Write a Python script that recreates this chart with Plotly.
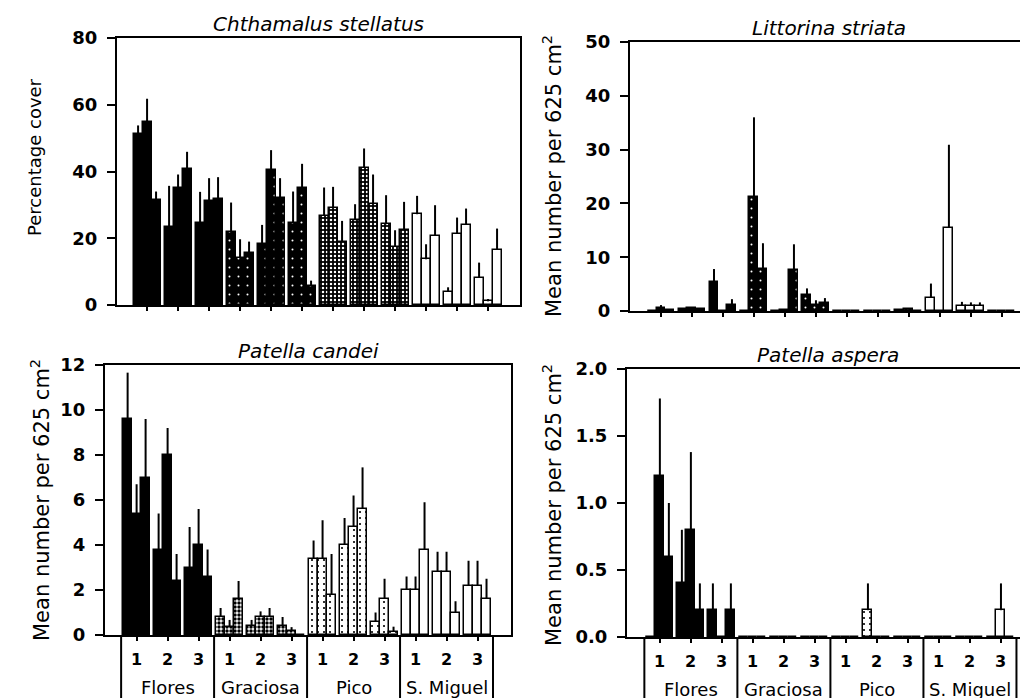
import plotly.graph_objects as go

# ---------------- data ----------------
ISLANDS = ["Flores", "Graciosa", "Pico", "S. Miguel"]
SHORES = ["1", "2", "3"]
SITES_PER_SHORE = 3

# order: island -> shore -> site (4 islands x 3 shores x 3 sites = 36 values)
chth_mean = [51.1, 54.9, 31.4, 23.5, 35.0, 40.8, 24.5, 31.2, 31.7,
             22.0, 14.0, 15.7, 18.4, 40.5, 32.0, 24.5, 35.2, 5.6,
             26.7, 29.2, 19.0, 25.4, 41.1, 30.3, 24.2, 17.4, 22.4,
             27.2, 13.7, 20.7, 4.0, 21.4, 24.0, 8.1, 1.1, 16.5]
chth_err = [2.7, 6.9, 2.6, 12.2, 4.1, 5.1, 9.4, 6.8, 6.6,
            8.7, 5.7, 3.3, 5.6, 5.9, 6.0, 9.5, 7.1, 1.7,
            8.5, 6.2, 6.2, 4.8, 5.8, 8.8, 8.7, 5.0, 8.5,
            5.5, 4.5, 9.2, 1.3, 4.8, 4.9, 4.6, 0.7, 6.4]

litt_mean = [0.0, 0.6, 0.1, 0.3, 0.5, 0.3, 5.3, 0.0, 1.2,
             0.0, 21.2, 7.8, 0.0, 0.1, 7.6, 3.0, 1.2, 1.5,
             0.0, 0.0, 0.0, 0.0, 0.0, 0.0, 0.2, 0.3, 0.0,
             2.5, 0.0, 15.5, 1.0, 1.0, 1.0, 0.0, 0.0, 0.0]
litt_err = [0.0, 0.5, 0.1, 0.2, 0.2, 0.1, 2.5, 0.0, 1.0,
            0.0, 14.8, 4.8, 0.0, 0.0, 4.8, 1.2, 0.8, 0.9,
            0.0, 0.0, 0.0, 0.0, 0.0, 0.0, 0.1, 0.1, 0.0,
            2.6, 0.0, 15.4, 0.7, 0.6, 0.6, 0.0, 0.0, 0.0]

cand_mean = [9.6, 5.4, 7.0, 3.8, 8.0, 2.4, 3.0, 4.0, 2.6,
             0.8, 0.35, 1.6, 0.4, 0.8, 0.8, 0.4, 0.2, 0.0,
             3.4, 3.4, 1.8, 4.0, 4.8, 5.6, 0.6, 1.6, 0.15,
             2.0, 2.0, 3.8, 2.8, 2.8, 1.0, 2.2, 2.2, 1.6]
cand_err = [2.06, 1.3, 2.6, 1.6, 1.2, 1.2, 1.8, 1.6, 1.2,
            0.4, 0.32, 0.8, 0.27, 0.25, 0.4, 0.4, 0.15, 0.0,
            0.8, 1.7, 1.8, 1.2, 1.4, 1.85, 0.4, 0.9, 0.22,
            0.6, 0.6, 2.1, 0.9, 0.9, 0.5, 1.1, 1.1, 0.9]

asp_mean = [0.0, 1.2, 0.6, 0.4, 0.8, 0.2, 0.2, 0.0, 0.2,
            0.0, 0.0, 0.0, 0.0, 0.0, 0.0, 0.0, 0.0, 0.0,
            0.0, 0.0, 0.0, 0.2, 0.0, 0.0, 0.0, 0.0, 0.0,
            0.0, 0.0, 0.0, 0.0, 0.0, 0.0, 0.0, 0.2, 0.0]
asp_err = [0.0, 0.58, 0.4, 0.4, 0.58, 0.2, 0.2, 0.0, 0.2,
           0.0, 0.0, 0.0, 0.0, 0.0, 0.0, 0.0, 0.0, 0.0,
           0.0, 0.0, 0.0, 0.2, 0.0, 0.0, 0.0, 0.0, 0.0,
           0.0, 0.0, 0.0, 0.0, 0.0, 0.0, 0.0, 0.2, 0.0]

TITLES = ["Chthamalus stellatus", "Littorina striata", "Patella candei", "Patella aspera"]
YTITLES = ["Percentage cover", "Mean number per 625 cm<sup>2</sup>",
           "Mean number per 625 cm<sup>2</sup>", "Mean number per 625 cm<sup>2</sup>"]
Y_TICKVALS = [[0, 20, 40, 60, 80], [0, 10, 20, 30, 40, 50],
              [0, 2, 4, 6, 8, 10, 12], [0, 0.5, 1.0, 1.5, 2.0]]
Y_TICKTEXT = [["0", "20", "40", "60", "80"], ["0", "10", "20", "30", "40", "50"],
              ["0", "2", "4", "6", "8", "10", "12"], ["0.0", "0.5", "1.0", "1.5", "2.0"]]

# ---------------- layout helpers ----------------
W, H = 1028, 698
OFF = 8          # the page places the figure 8 px from the window's top-left corner
FONT = "DejaVu Sans"
BAR_W = 0.29


def px_x(p):
    return (p - OFF) / W


def px_y(p):
    return 1 - (p - OFF) / H


panels = [
    dict(mean=chth_mean, err=chth_err, xdom=(117, 520), ydom=(305, 38), xr=(-0.97, 12.03),
         yr=(0, 80), bottom=False, ytx=34, yty=157, ytsize=18),
    dict(mean=litt_mean, err=litt_err, xdom=(630, 1036), ydom=(311, 42), xr=(-1.0, 12.1),
         yr=(0, 50), bottom=False, ytx=552, yty=176, ytsize=21),
    dict(mean=cand_mean, err=cand_err, xdom=(105, 511), ydom=(635, 365), xr=(-1.02, 12.08),
         yr=(0, 12), bottom=True, ytx=40, yty=500, ytsize=21),
    dict(mean=asp_mean, err=asp_err, xdom=(627, 1036), ydom=(637, 369), xr=(-1.06, 12.13),
         yr=(0, 2), bottom=True, ytx=552, yty=505, ytsize=21),
]

top_styles = [
    dict(color="black"),
    dict(color="black", pattern=dict(shape=".", bgcolor="black", fgcolor="white", size=9, solidity=0.04)),
    dict(color="black", pattern=dict(shape=".", bgcolor="black", fgcolor="white", size=4, solidity=0.3)),
    dict(color="white"),
]
bottom_styles = [
    dict(color="black"),
    dict(color="black", pattern=dict(shape=".", bgcolor="white", fgcolor="black", size=4, solidity=0.6)),
    dict(color="white", pattern=dict(shape=".", bgcolor="white", fgcolor="black", size=6, solidity=0.1)),
    dict(color="white"),
]

fig = go.Figure()
annotations = []
shapes = []
n_per_island = len(SHORES) * SITES_PER_SHORE

for p, cfg in enumerate(panels):
    ax = "" if p == 0 else str(p + 1)
    xref, yref = "x" + ax, "y" + ax
    styles = bottom_styles if cfg["bottom"] else top_styles
    for i, isl in enumerate(ISLANDS):
        xs, ys, es = [], [], []
        for j in range(len(SHORES)):
            for k in range(SITES_PER_SHORE):
                idx = i * n_per_island + j * SITES_PER_SHORE + k
                g = i * len(SHORES) + j
                xs.append(g + (k - 1) * BAR_W)
                ys.append(cfg["mean"][idx])
                es.append(cfg["err"][idx])
        st = styles[i]
        marker = dict(color=st["color"], line=dict(color="black", width=1.5))
        if "pattern" in st:
            marker["pattern"] = dict(fillmode="replace", **st["pattern"])
        fig.add_trace(go.Bar(
            x=xs, y=ys, width=BAR_W, marker=marker, name=isl, showlegend=False,
            xaxis=xref, yaxis=yref,
            error_y=dict(type="data", array=es, arrayminus=[0] * len(es), symmetric=False,
                         color="black", thickness=2, width=0),
        ))

    n_groups = len(ISLANDS) * len(SHORES)
    xa = dict(domain=[max(0, px_x(cfg["xdom"][0])), min(1, px_x(cfg["xdom"][1]))],
              range=list(cfg["xr"]),
              showline=True, linecolor="black", linewidth=2, mirror=True,
              ticks="outside", ticklen=4, tickwidth=2, tickcolor="black",
              tickvals=list(range(n_groups)), showticklabels=False, automargin=False,
              showgrid=False, zeroline=False, anchor=yref, fixedrange=True)
    ya = dict(domain=[px_y(cfg["ydom"][0]), px_y(cfg["ydom"][1])], range=list(cfg["yr"]),
              showline=True, linecolor="black", linewidth=2, mirror=True,
              ticks="outside", ticklen=8, tickwidth=2, tickcolor="black",
              tickvals=Y_TICKVALS[p], ticktext=Y_TICKTEXT[p], ticklabelstandoff=6,
              tickfont=dict(family=FONT, size=18, color="black", weight="bold"),
              automargin=False,
              showgrid=False, zeroline=False, anchor=xref, fixedrange=True)
    fig.update_layout(**{"xaxis" + ax: xa, "yaxis" + ax: ya})

    # panel title (centred on the visible part of the panel)
    vis_right = min(cfg["xdom"][1], W)
    annotations.append(dict(text=TITLES[p], xref="paper", yref="paper",
                            x=px_x((cfg["xdom"][0] + vis_right) / 2), y=px_y(cfg["ydom"][1]),
                            xanchor="center", yanchor="bottom", showarrow=False,
                            font=dict(family=FONT, size=20, color="black", style="italic")))
    # y-axis title
    annotations.append(dict(text=YTITLES[p], xref="paper", yref="paper",
                            x=px_x(cfg["ytx"]), y=px_y(cfg["yty"]), xanchor="center",
                            yanchor="middle", textangle=-90, showarrow=False,
                            font=dict(family=FONT, size=cfg["ytsize"], color="black")))

    if cfg["bottom"]:
        ybot = px_y(cfg["ydom"][0])
        for g in range(n_groups):
            annotations.append(dict(text=SHORES[g % len(SHORES)], xref=xref, yref="paper",
                                    x=g, y=px_y(cfg["ydom"][0] + 24), xanchor="center",
                                    yanchor="middle", showarrow=False,
                                    font=dict(family=FONT, size=16, color="black", weight="bold")))
        for i, isl in enumerate(ISLANDS):
            annotations.append(dict(text=isl, xref=xref, yref="paper",
                                    x=i * len(SHORES) + 1, y=px_y(cfg["ydom"][0] + 52),
                                    xanchor="center", yanchor="middle", showarrow=False,
                                    font=dict(family=FONT, size=18, color="black")))
        for i in range(len(ISLANDS) + 1):
            xv = i * len(SHORES) - 0.5
            shapes.append(dict(type="line", xref=xref, yref="paper", x0=xv, x1=xv,
                               y0=0, y1=ybot, line=dict(color="black", width=2)))

fig.update_layout(
    width=W, height=H, margin=dict(l=0, r=0, t=0, b=0, autoexpand=False),
    paper_bgcolor="white", plot_bgcolor="white",
    barmode="overlay", bargap=0,
    annotations=annotations, shapes=shapes,
    font=dict(family=FONT, color="black"),
)

fig.write_html("out.html")
